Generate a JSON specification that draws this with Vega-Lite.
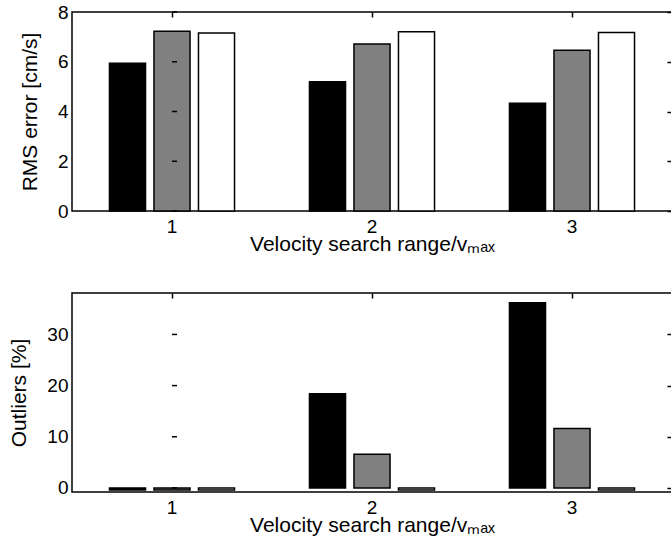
{
  "$schema": "https://vega.github.io/schema/vega-lite/v6.json",
  "padding": {"left": 8, "top": 2, "right": 0, "bottom": 0},
  "background": "white",
  "config": {
    "font": "Liberation Sans",
    "view": {"stroke": "black", "strokeWidth": 1.5},
    "axis": {
      "domain": false,
      "grid": false,
      "tickColor": "black",
      "tickWidth": 1.5,
      "tickSize": -5,
      "labelColor": "black",
      "labelFont": "Liberation Sans",
      "labelFontSize": 19,
      "titleColor": "black",
      "titleFont": "Liberation Sans",
      "titleFontSize": 21,
      "titleFontWeight": "normal"
    },
    "bar": {"stroke": "black", "strokeWidth": 1.5}
  },
  "datasets": {
    "rms": [
      {"range": "1", "method": "a", "value": 5.94},
      {"range": "1", "method": "b", "value": 7.23},
      {"range": "1", "method": "c", "value": 7.16},
      {"range": "2", "method": "a", "value": 5.2},
      {"range": "2", "method": "b", "value": 6.71},
      {"range": "2", "method": "c", "value": 7.21},
      {"range": "3", "method": "a", "value": 4.33},
      {"range": "3", "method": "b", "value": 6.46},
      {"range": "3", "method": "c", "value": 7.18}
    ],
    "out": [
      {"range": "1", "method": "a", "value": -0.4},
      {"range": "1", "method": "b", "value": -0.4},
      {"range": "1", "method": "c", "value": -0.4},
      {"range": "2", "method": "a", "value": 18.4},
      {"range": "2", "method": "b", "value": 6.6},
      {"range": "2", "method": "c", "value": -0.4},
      {"range": "3", "method": "a", "value": 36.2},
      {"range": "3", "method": "b", "value": 11.6},
      {"range": "3", "method": "c", "value": -0.4}
    ],
    "rmsTicks": [{"value": 0}, {"value": 2}, {"value": 4}, {"value": 6}, {"value": 8}],
    "outTicks": [{"value": 0}, {"value": 10}, {"value": 20}, {"value": 30}]
  },
  "spacing": 36,
  "vconcat": [
    {
      "width": 600,
      "height": 199,
      "resolve": {"axis": {"x": "independent", "y": "independent"}},
      "layer": [
        {
          "data": {"name": "rms"},
          "mark": {"type": "bar", "opacity": 0, "strokeOpacity": 0},
          "encoding": {
            "x": {"field": "range", "type": "nominal",
                  "scale": {"paddingInner": 0, "paddingOuter": 0},
                  "axis": {"orient": "top", "labels": false, "title": null}},
            "xOffset": {"field": "method", "type": "nominal",
                        "scale": {"paddingInner": 0.19, "paddingOuter": 0.842}},
            "y": {"field": "value", "type": "quantitative",
                  "scale": {"domain": [0, 8], "nice": false},
                  "axis": {"orient": "right", "values": [0, 2, 4, 6, 8], "labels": false, "title": null}}
          }
        },
        {
          "data": {"name": "rms"},
          "mark": {"type": "bar"},
          "encoding": {
            "x": {"field": "range", "type": "nominal",
                  "axis": {"orient": "bottom", "ticks": false, "labelAngle": 0, "labelPadding": 6, "title": "Velocity search range/vₘₐₓ", "titlePadding": -3}},
            "xOffset": {"field": "method", "type": "nominal"},
            "y": {"field": "value", "type": "quantitative",
                  "axis": {"orient": "left", "ticks": false, "values": [0, 2, 4, 6, 8], "labelPadding": 4, "title": "RMS error [cm/s]", "titlePadding": 17}},
            "color": {"field": "method", "type": "nominal",
                      "scale": {"domain": ["a", "b", "c"], "range": ["#000000", "#808080", "#ffffff"]},
                      "legend": null}
          }
        },
        {
          "data": {"name": "rmsTicks"},
          "mark": {"type": "tick", "orient": "horizontal", "size": 5, "thickness": 1.5, "color": "black", "xOffset": 2.5, "opacity": 1},
          "encoding": {
            "x": {"datum": "1", "type": "nominal", "bandPosition": 0, "axis": null},
            "y": {"field": "value", "type": "quantitative", "axis": null}
          }
        }
      ]
    },
    {
      "width": 600,
      "height": 199,
      "resolve": {"axis": {"x": "independent", "y": "independent"}},
      "layer": [
        {
          "data": {"name": "out"},
          "mark": {"type": "bar", "opacity": 0, "strokeOpacity": 0},
          "encoding": {
            "x": {"field": "range", "type": "nominal",
                  "scale": {"paddingInner": 0, "paddingOuter": 0},
                  "axis": {"orient": "top", "labels": false, "title": null}},
            "xOffset": {"field": "method", "type": "nominal",
                        "scale": {"paddingInner": 0.19, "paddingOuter": 0.842}},
            "y": {"field": "value", "type": "quantitative",
                  "scale": {"domain": [-0.8, 38.1], "nice": false, "zero": false},
                  "axis": {"orient": "right", "values": [0, 10, 20, 30], "labels": false, "title": null}}
          }
        },
        {
          "data": {"name": "out"},
          "mark": {"type": "bar"},
          "encoding": {
            "x": {"field": "range", "type": "nominal",
                  "axis": {"orient": "bottom", "ticks": false, "labelAngle": 0, "labelPadding": 6, "title": "Velocity search range/vₘₐₓ", "titlePadding": -3}},
            "xOffset": {"field": "method", "type": "nominal"},
            "y": {"field": "value", "type": "quantitative",
                  "axis": {"orient": "left", "ticks": false, "values": [0, 10, 20, 30], "labelPadding": 4, "title": "Outliers [%]", "titlePadding": 17}},
            "color": {"field": "method", "type": "nominal",
                      "scale": {"domain": ["a", "b", "c"], "range": ["#000000", "#808080", "#ffffff"]},
                      "legend": null}
          }
        },
        {
          "data": {"name": "outTicks"},
          "mark": {"type": "tick", "orient": "horizontal", "size": 5, "thickness": 1.5, "color": "black", "xOffset": 2.5, "opacity": 1},
          "encoding": {
            "x": {"datum": "1", "type": "nominal", "bandPosition": 0, "axis": null},
            "y": {"field": "value", "type": "quantitative", "axis": null}
          }
        }
      ]
    }
  ]
}
